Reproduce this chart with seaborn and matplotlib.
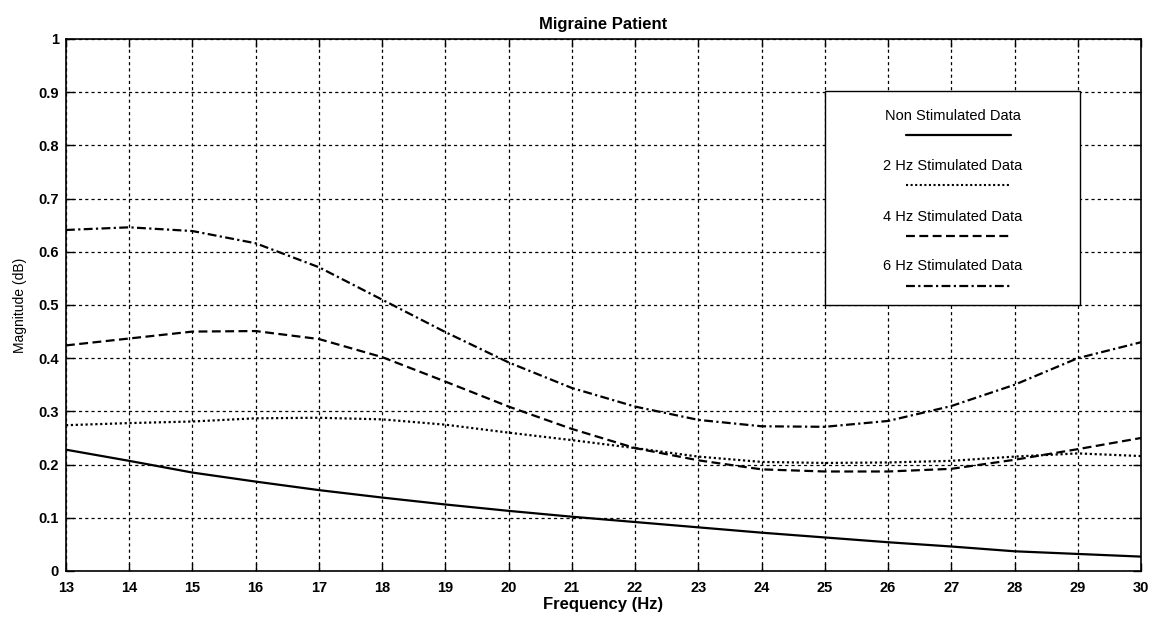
import numpy as np
import pandas as pd
import seaborn as sns
import matplotlib
matplotlib.use("Agg")
import matplotlib.pyplot as plt
from matplotlib.patches import Rectangle
from matplotlib.lines import Line2D

# ---- data ----
freq = [13, 14, 15, 16, 17, 18, 19, 20, 21, 22, 23, 24, 25, 26, 27, 28, 29, 30]
non_stim = [0.228, 0.207, 0.185, 0.168, 0.152, 0.138, 0.125, 0.113, 0.102, 0.092,
            0.082, 0.072, 0.063, 0.054, 0.046, 0.037, 0.032, 0.027]
stim_2hz = [0.274, 0.278, 0.281, 0.287, 0.288, 0.285, 0.275, 0.260, 0.246, 0.231,
            0.215, 0.205, 0.203, 0.204, 0.207, 0.215, 0.221, 0.216]
stim_4hz = [0.424, 0.437, 0.450, 0.451, 0.436, 0.402, 0.356, 0.309, 0.267, 0.231,
            0.208, 0.191, 0.187, 0.187, 0.192, 0.209, 0.229, 0.250]
stim_6hz = [0.641, 0.646, 0.639, 0.616, 0.571, 0.510, 0.449, 0.392, 0.344, 0.309,
            0.284, 0.272, 0.271, 0.282, 0.310, 0.350, 0.400, 0.430]
series_names = ["Non Stimulated Data", "2 Hz Stimulated Data",
                "4 Hz Stimulated Data", "6 Hz Stimulated Data"]
x_ticks = list(range(13, 31))
y_ticks = [0, 0.1, 0.2, 0.3, 0.4, 0.5, 0.6, 0.7, 0.8, 0.9, 1]
y_ticklabels = ["0", "0.1", "0.2", "0.3", "0.4", "0.5", "0.6", "0.7", "0.8", "0.9", "1"]

df = pd.concat([
    pd.DataFrame({"freq": freq, "mag": vals, "series": name})
    for name, vals in zip(series_names, [non_stim, stim_2hz, stim_4hz, stim_6hz])
], ignore_index=True)

# ---- style ----
sns.set_theme(style="ticks")
plt.rcParams["font.family"] = ["Liberation Sans", "DejaVu Sans"]
plt.rcParams["text.color"] = "black"
plt.rcParams["axes.labelcolor"] = "black"
plt.rcParams["xtick.color"] = "black"
plt.rcParams["ytick.color"] = "black"

styles = {
    series_names[0]: "",
    series_names[1]: (1, 1.2),
    series_names[2]: (4, 2),
    series_names[3]: (4, 1.5, 1, 1.5),
}
widths = {series_names[0]: 1.6, series_names[1]: 1.5,
          series_names[2]: 1.6, series_names[3]: 1.6}

fig = plt.figure(figsize=(11.53, 6.17), dpi=100)
ax = fig.add_axes([0.0572, 0.0746, 0.9324, 0.8622])

sns.lineplot(data=df, x="freq", y="mag", hue="series", style="series",
             palette=["black"] * 4, dashes=styles, legend=False, ax=ax,
             linewidth=1.6, zorder=3)

ax.set_xlim(13, 30)
ax.set_ylim(0, 1)
ax.set_xticks(x_ticks)
ax.set_xticklabels([str(v) for v in x_ticks], fontsize=10.5, fontweight="bold",
                   color="black")
ax.set_yticks(y_ticks)
ax.set_yticklabels(y_ticklabels, fontsize=10.5, fontweight="bold", color="black")
ax.tick_params(direction="in", length=6, width=1, top=True, right=True,
               colors="black")
ax.tick_params(axis="x", pad=7)
ax.tick_params(axis="y", pad=5)
ax.grid(True, color="black", linestyle=(0, (2.5, 2.5)), linewidth=0.9)
for s in ax.spines.values():
    s.set_visible(True)
    s.set_color("black")
    s.set_linewidth(1.2)

ax.set_title("Migraine Patient", fontsize=12, fontweight="bold", pad=7,
             color="black")
ax.set_xlabel("Frequency (Hz)", fontsize=12, fontweight="bold", labelpad=2,
              color="black")
ax.set_ylabel("Magnitude (dB)", fontsize=10, labelpad=8, color="black")

# ---- legend (text above each line sample) ----
ax.add_patch(Rectangle((0.706, 0.5), 0.237, 0.402, transform=ax.transAxes,
                       facecolor="white", edgecolor="black", linewidth=1.0,
                       zorder=5))
text_y = [0.856, 0.761, 0.665, 0.573]
line_y = [0.8195, 0.7256, 0.630, 0.5357]
for name, ty, ly in zip(series_names, text_y, line_y):
    ax.text(0.825, ty, name, transform=ax.transAxes, ha="center", va="center",
            fontsize=10.5, color="black", zorder=6)
    d = styles[name]
    ln = Line2D([0.781, 0.879], [ly, ly], transform=ax.transAxes,
                color="black", linewidth=widths[name], zorder=6)
    if d:
        ln.set_dashes(d)
    ax.add_line(ln)

fig.savefig("out.png", dpi=100, facecolor="white")
